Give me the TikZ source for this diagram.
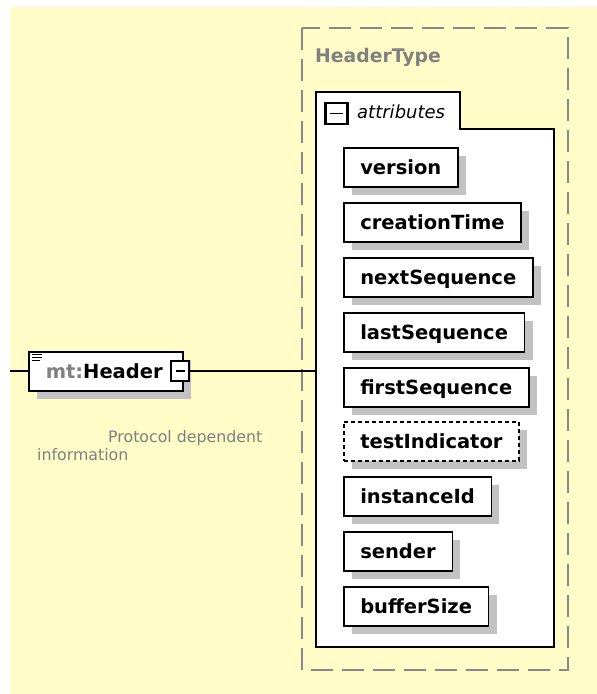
\documentclass[tikz,border=0pt]{standalone}
\usepackage{fontspec}
\setmainfont{DejaVu Sans}
\usetikzlibrary{shadows}
\definecolor{bgyellow}{RGB}{255,252,200}
\definecolor{shadowgray}{RGB}{194,194,194}
\definecolor{txtgray}{RGB}{128,128,128}
\definecolor{dashgray}{RGB}{136,136,136}
\newcommand{\elemfont}{\bfseries\fontsize{19.5}{20}\selectfont}
\tikzset{
  elem/.style={draw=black, line width=1.5pt, fill=white, anchor=north west,
    minimum height=39pt, inner xsep=16.5pt, inner ysep=0pt,
    text height=16pt, text depth=1pt, font=\elemfont, text=black,
    drop shadow={shadow xshift=8pt, shadow yshift=-8pt, fill=shadowgray, opacity=1}},
  optelem/.style={elem, dash pattern=on 4pt off 3pt},
  minusbox/.style={draw=black, line width=2.2pt, fill=white, inner sep=0pt,
    path picture={\draw[line width=1.8pt] ([xshift=4.5pt]path picture bounding box.west) -- ([xshift=-4.5pt]path picture bounding box.east);
      \draw[line width=2.4pt] (path picture bounding box.north east) -- (path picture bounding box.south east) -- (path picture bounding box.south west);}},
  conn/.style={draw=black, line width=1.5pt},
  plain/.style={inner sep=0pt, anchor=base west}
}
\begin{document}
\begin{tikzpicture}[x=1pt,y=-1pt]
\useasboundingbox (0,0) rectangle (597,694);
\fill[white] (0,0) rectangle (597,694);
\fill[bgyellow] (10,7) rectangle (597,694);
% complex type frame
\draw[dashgray, line width=1.3pt, dash pattern=on 22pt off 9pt] (302,28) rectangle (568,670);
\node[plain, text=txtgray, font=\bfseries\fontsize{18.8}{20}\selectfont] (htype) at (315,62) {HeaderType};
% attributes container
\draw[fill=white, line width=1.5pt] (316,92) -- (460,92) -- (460,129) -- (554,129) -- (554,647) -- (316,647) -- cycle;
\node[minusbox, minimum width=22pt, minimum height=21pt] (am) at (336.5,113.5) {};
\node[plain, font=\itshape\fontsize{18}{20}\selectfont] (atxt) at (357,118) {attributes};
% attributes
\node[elem] (e1) at (343,147) {version};
\node[elem] (e2) at (343,202) {creationTime};
\node[elem] (e3) at (343,257) {nextSequence};
\node[elem] (e4) at (343,312) {lastSequence};
\node[elem] (e5) at (343,367) {firstSequence};
\node[optelem] (e6) at (343,421) {testIndicator};
\node[elem] (e7) at (343,476) {instanceId};
\node[elem] (e8) at (343,531) {sender};
\node[elem] (e9) at (343,586) {bufferSize};
% header element
\coordinate (lin) at (10,371);
\coordinate (aleft) at (316,371);
\node[elem, minimum width=154pt, text width=120pt, align=left, inner xsep=17pt, text height=15pt] (hdr) at (28,351) {\textcolor{txtgray}{mt:}Header};
\draw[conn] (lin) -- (lin -| hdr.west);
\draw[line width=1.4pt] (32,354.5) -- (42,354.5) (32,357.5) -- (42,357.5) (32,360.5) -- (40,360.5);
\node[minusbox, minimum width=18pt, minimum height=20pt] (hm) at (180,371) {};
\draw[conn] (hm.east) -- (aleft);
% annotation
\node[plain, text=txtgray, font=\fontsize{15.8}{18}\selectfont] (note1) at (108,442) {Protocol dependent};
\node[plain, text=txtgray, font=\fontsize{15.8}{18}\selectfont] (note2) at (37,460) {information};
\end{tikzpicture}
\end{document}
